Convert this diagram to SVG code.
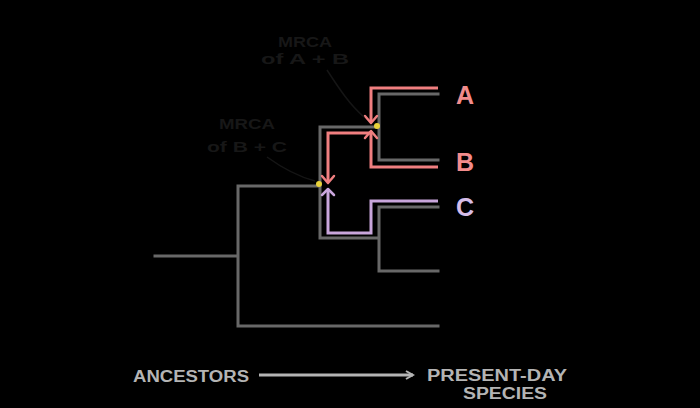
<svg xmlns="http://www.w3.org/2000/svg" width="700" height="408" viewBox="0 0 700 408">
<style>
.tree{fill:none;stroke:#686868;stroke-width:3;stroke-linecap:square;stroke-linejoin:miter}
.pink{fill:none;stroke:#f07f80;stroke-width:3;stroke-linejoin:miter}
.purple{fill:none;stroke:#c9a6dc;stroke-width:3;stroke-linejoin:miter}
.head{fill:none;stroke-width:2.5;stroke-linecap:round;stroke-linejoin:round}
.dark{fill:#171717;font-family:"Liberation Sans",Arial,sans-serif;font-weight:bold;font-size:15px;text-anchor:middle}
.ptr{fill:none;stroke:#151515;stroke-width:1.5}
.axis{fill:#b4b4b4;font-family:"Liberation Sans",Arial,sans-serif;font-weight:bold;font-size:16px}
.tip{font-family:"Liberation Sans",Arial,sans-serif;font-weight:bold;font-size:25px}
.dot{fill:#e8d23a}
</style>
<defs>
<marker id="arr" markerWidth="10" markerHeight="10" refX="8" refY="5" orient="auto" markerUnits="userSpaceOnUse">
<path d="M1,1 L8,5 L1,9" fill="none" stroke="#b4b4b4" stroke-width="2"/>
</marker>
</defs>
<rect width="700" height="408" fill="#000"/>
<g id="tree">
<path class="tree" d="M155,256 H238 M238,186 V326 M238,186 H320 M238,326 H438 M320,127 V238 M320,127 H379 M379,94 V160 M379,94 H438 M379,160 H438 M320,238 H379 M379,207 V271 M379,207 H438 M379,271 H438"/>
</g>
<g id="connectors">
<path class="pink" d="M438,88 H371 V122"/>
<polyline class="head" stroke="#f07f80" points="365,116 371,123 377,116"/>
<path class="pink" d="M438,167 H371 V131"/>
<polyline class="head" stroke="#f07f80" points="365,138 371,131 377,138"/>
<path class="pink" d="M371,133 H328 V182"/>
<polyline class="head" stroke="#f07f80" points="322,176 328,183 334,176"/>
<path class="purple" d="M438,201 H371 V233 H328 V190"/>
<polyline class="head" stroke="#c9a6dc" points="322,195 328,189 334,195"/>
<path class="ptr" d="M327,70 C340,90 350,105 364,117"/>
<path class="ptr" d="M267,157 C285,170 300,177 315,181"/>
<line x1="259" y1="375" x2="413" y2="375" stroke="#b4b4b4" stroke-width="3" marker-end="url(#arr)"/>
</g>
<g id="mrca-ab">
<circle class="dot" cx="377" cy="126" r="3"/>
<text class="dark" x="305" y="47" textLength="54" lengthAdjust="spacingAndGlyphs">MRCA</text>
<text class="dark" x="305" y="64" textLength="88" lengthAdjust="spacingAndGlyphs">of A + B</text>
</g>
<g id="mrca-bc">
<circle class="dot" cx="319" cy="184" r="3"/>
<text class="dark" x="247" y="129" textLength="56" lengthAdjust="spacingAndGlyphs">MRCA</text>
<text class="dark" x="247" y="152" textLength="80" lengthAdjust="spacingAndGlyphs">of B + C</text>
</g>
<g id="label-a"><text class="tip" x="456" y="104" fill="#f28c8c">A</text></g>
<g id="label-b"><text class="tip" x="456" y="171" fill="#f28c8c">B</text></g>
<g id="label-c"><text class="tip" x="456" y="216" fill="#d6bde8">C</text></g>
<g id="axis-labels">
<text class="axis" x="133" y="382" textLength="116" lengthAdjust="spacingAndGlyphs">ANCESTORS</text>
<text class="axis" x="427" y="381" textLength="140" lengthAdjust="spacingAndGlyphs">PRESENT-DAY</text>
<text class="axis" x="463" y="399" textLength="84" lengthAdjust="spacingAndGlyphs">SPECIES</text>
</g>
</svg>
